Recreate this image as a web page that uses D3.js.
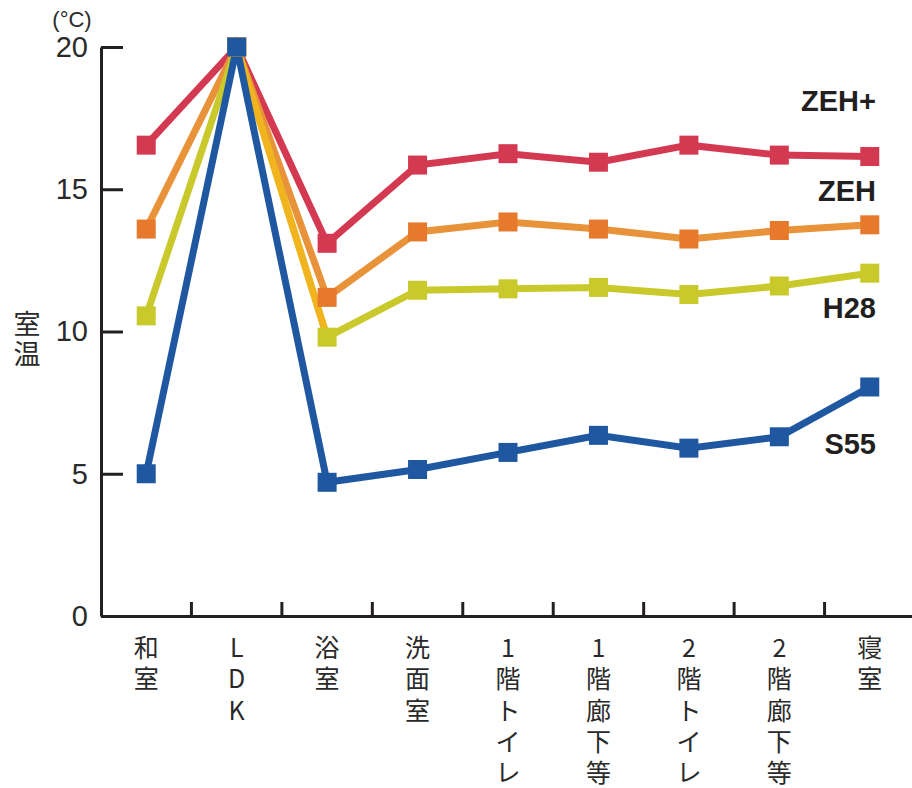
<!DOCTYPE html>
<html><head><meta charset="utf-8">
<script src="https://cdn.jsdelivr.net/npm/d3@7"></script>
<style>
html,body{margin:0;padding:0;background:#fff;}
svg{display:block;}
</style></head>
<body>
<svg id="chart" width="912" height="788"></svg>
<script>
const categories = ["和室","LDK","浴室","洗面室","1階トイレ","1階廊下等","2階トイレ","2階廊下等","寝室"];
const seriesNames = ["ZEH+","ZEH","H28","S55"];
const zehPlus = [16.55,20,13.1,15.85,16.25,15.95,16.55,16.2,16.15];
const zeh     = [13.6,20,11.2,13.5,13.85,13.6,13.25,13.55,13.75];
const h28     = [10.55,20,9.8,11.45,11.5,11.55,11.3,11.6,12.05];
const s55     = [5.0,20,4.7,5.15,5.75,6.35,5.9,6.3,8.05];
const yTicks = [0,5,10,15,20];
const seriesColors = ["#d33a52","#e8923a","#c9c92c","#1f57a1"];
const markerColors = ["#d33a52","#e6792c","#c9c92c","#1f57a1"];
const h28DropColor = "#f2b41e";
const values = [zehPlus, zeh, h28, s55];
const labelValues = [18.1, 14.93, 10.82, 6.05];

const svg = d3.select("#chart");
const axisColor = "#231f20";
const x = d3.scaleBand().domain(categories).range([101, 915]);
const y = d3.scaleLinear().domain([0,20]).range([616,47]);
const cx = c => x(c) + x.bandwidth()/2;

// Y axis
const yAxis = d3.axisLeft(y).tickValues(yTicks).tickSize(-22).tickSizeOuter(0).tickPadding(13);
const gy = svg.append("g").attr("transform","translate(101,0)").call(yAxis);
gy.select(".domain").attr("stroke",axisColor).attr("stroke-width",3);
gy.selectAll(".tick line").attr("stroke",axisColor).attr("stroke-width",3);
gy.selectAll(".tick text").attr("fill","#2a2a2a").attr("font-family","'Liberation Sans', Arial, sans-serif").attr("font-size",29);

// X axis
const gx = svg.append("g").attr("transform","translate(0,616)")
  .call(d3.axisBottom(x).tickSize(0).tickSizeOuter(0).tickFormat(""));
gx.select(".domain").attr("stroke",axisColor).attr("stroke-width",3);
const bounds = categories.slice(0,-1).map(c => x(c)+x.bandwidth());
svg.append("g").selectAll("line").data(bounds).join("line")
  .attr("x1",d=>d).attr("x2",d=>d).attr("y1",616).attr("y2",602)
  .attr("stroke",axisColor).attr("stroke-width",3);

// X labels (vertical, one text per character)
const xChars = [];
categories.forEach(c => Array.from(c).forEach((ch,i)=>xChars.push({c, ch, i})));
svg.append("g").selectAll("text").data(xChars).join("text")
  .attr("x",d=>cx(d.c)).attr("y",d=>657 + d.i*31.3)
  .attr("text-anchor","middle")
  .attr("font-family","'Noto Sans CJK JP', sans-serif")
  .attr("font-size",25).attr("fill","#2a2a2a").text(d=>d.ch);

// unit + axis title
svg.append("text").attr("x",72).attr("y",27).attr("text-anchor","middle")
  .attr("font-family","'Liberation Sans', Arial, sans-serif").attr("font-size",22).attr("fill","#2a2a2a").text("(°C)");
svg.append("g").selectAll("text").data(["室","温"]).join("text")
  .attr("x",27).attr("y",(d,i)=>334+i*30).attr("text-anchor","middle")
  .attr("font-family","'Noto Sans CJK JP', sans-serif").attr("font-size",27).attr("fill","#2a2a2a")
  .text(d=>d);

// Lines
const line = d3.line().x((d,i)=>cx(categories[i])).y(d=>y(d));
const gl = svg.append("g");
values.forEach((vals,k)=>{
  gl.append("path").datum(vals).attr("d",line).attr("fill","none")
    .attr("stroke",seriesColors[k]).attr("stroke-width",7).attr("stroke-linejoin","miter");
  if (k===2) {
    const seg = [[cx(categories[1]),y(vals[1])],[cx(categories[2]),y(vals[2])]];
    gl.append("path").attr("d",d3.line()(seg)).attr("fill","none")
      .attr("stroke",h28DropColor).attr("stroke-width",7);
  }
});
// Markers
values.forEach((vals,k)=>{
  gl.append("g").selectAll("rect").data(vals).join("rect")
    .attr("x",(d,i)=>cx(categories[i])-9.5).attr("y",d=>y(d)-9.5)
    .attr("width",19).attr("height",19).attr("fill",markerColors[k]);
});

// Series labels
svg.append("g").selectAll("text").data(seriesNames).join("text")
  .attr("x",876).attr("y",(d,i)=>y(labelValues[i]))
  .attr("text-anchor","end").attr("dominant-baseline","central")
  .attr("font-family","'Liberation Sans', Arial, sans-serif").attr("font-weight","bold")
  .attr("font-size",29).attr("fill","#231f20").text(d=>d);
</script>
</body></html>
